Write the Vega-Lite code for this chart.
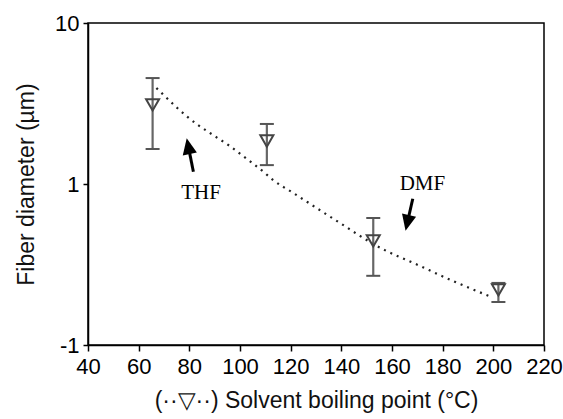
{
  "$schema": "https://vega.github.io/schema/vega-lite/v6.json",
  "autosize": "none",
  "width": 456,
  "height": 322,
  "padding": {"left": 88, "top": 23, "right": 19, "bottom": 74},
  "background": "white",
  "config": {
    "view": {"stroke": "black", "strokeWidth": 1.5},
    "axis": {
      "labelFont": "Liberation Sans",
      "titleFont": "Liberation Sans",
      "labelFontSize": 22,
      "titleFontSize": 23,
      "titleFontWeight": "normal",
      "labelColor": "black",
      "titleColor": "#111111",
      "domainColor": "black",
      "tickColor": "black",
      "domainWidth": 1.5,
      "tickWidth": 1.5,
      "labelOverlap": false,
      "labelBound": false,
      "labelFlush": false,
      "grid": false
    }
  },
  "datasets": {
    "points": [
      {"bp": 65.5, "d": 3.1, "lo": 1.65, "hi": 4.55},
      {"bp": 110.6, "d": 1.85, "lo": 1.31, "hi": 2.36},
      {"bp": 152.6, "d": 0.443, "lo": 0.269, "hi": 0.615},
      {"bp": 202, "d": 0.22, "lo": 0.185, "hi": 0.243}
    ],
    "fit": [
      {"bp": 67, "d": 3.95},
      {"bp": 83, "d": 2.35},
      {"bp": 88, "d": 2.08},
      {"bp": 96, "d": 1.72},
      {"bp": 104, "d": 1.38},
      {"bp": 109, "d": 1.2},
      {"bp": 113, "d": 1.06},
      {"bp": 121, "d": 0.88},
      {"bp": 133, "d": 0.665},
      {"bp": 142, "d": 0.54},
      {"bp": 147, "d": 0.48},
      {"bp": 152.5, "d": 0.425},
      {"bp": 172, "d": 0.305},
      {"bp": 184, "d": 0.25},
      {"bp": 199.5, "d": 0.198}
    ],
    "labels": [
      {"bp": 84.6, "d": 0.883, "text": "THF"},
      {"bp": 172, "d": 1.0, "text": "DMF"}
    ],
    "arrowShafts": [
      {"id": "THF", "bp": 81.6, "d": 1.192, "bp2": 79.58, "d2": 1.718},
      {"id": "DMF", "bp": 168.2, "d": 0.81, "bp2": 166.04, "d2": 0.5735}
    ],
    "arrowHeads": [
      {"id": "THF", "bp": 79.58, "d": 1.718, "angle": 348.8},
      {"id": "DMF", "bp": 166.04, "d": 0.5735, "angle": 192.7}
    ]
  },
  "encoding": {
    "x": {
      "field": "bp",
      "type": "quantitative",
      "scale": {"domain": [40, 220], "nice": false, "zero": false},
      "axis": {
        "title": "(··▽··) Solvent boiling point (°C)",
        "values": [40, 60, 80, 100, 120, 140, 160, 180, 200, 220],
        "tickSize": 6,
        "labelPadding": 5,
        "titlePadding": 12
      }
    },
    "y": {
      "field": "d",
      "type": "quantitative",
      "scale": {"type": "log", "domain": [0.1, 10], "nice": false},
      "axis": {
        "title": "Fiber diameter (µm)",
        "values": [0.1, 1, 10],
        "labelExpr": "datum.value < 0.5 ? '-1' : datum.value < 5 ? '1' : '10'",
        "tickSize": 5,
        "labelPadding": 4,
        "titlePadding": 16
      }
    }
  },
  "layer": [
    {
      "data": {"name": "fit"},
      "mark": {"type": "line", "color": "#222222", "strokeWidth": 2.2, "strokeDash": [2, 5], "interpolate": "monotone"}
    },
    {
      "data": {"name": "points"},
      "mark": {"type": "rule", "color": "#666666", "strokeWidth": 2.2},
      "encoding": {"y": {"field": "lo", "type": "quantitative"}, "y2": {"field": "hi"}}
    },
    {
      "data": {"name": "points"},
      "mark": {"type": "point", "shape": "M -1 0 L 1 0", "size": 196, "filled": false, "color": "#555555", "strokeWidth": 2, "opacity": 1},
      "encoding": {"y": {"field": "lo", "type": "quantitative"}}
    },
    {
      "data": {"name": "points"},
      "mark": {"type": "point", "shape": "M -1 0 L 1 0", "size": 196, "filled": false, "color": "#555555", "strokeWidth": 2, "opacity": 1},
      "encoding": {"y": {"field": "hi", "type": "quantitative"}}
    },
    {
      "data": {"name": "points"},
      "mark": {"type": "point", "shape": "triangle-down", "size": 170, "filled": false, "color": "#444444", "strokeWidth": 2, "opacity": 1}
    },
    {
      "data": {"name": "arrowShafts"},
      "mark": {"type": "rule", "color": "black", "strokeWidth": 3},
      "encoding": {"x2": {"field": "bp2"}, "y2": {"field": "d2"}}
    },
    {
      "data": {"name": "arrowHeads"},
      "mark": {"type": "point", "shape": "M 0 -1 L 0.9 1 L -0.9 1 Z", "filled": true, "color": "black", "size": 256, "opacity": 1},
      "encoding": {
        "angle": {"field": "angle", "type": "quantitative", "scale": null}
      }
    },
    {
      "data": {"name": "labels"},
      "mark": {"type": "text", "font": "Liberation Serif", "fontSize": 21, "color": "black", "baseline": "middle", "align": "center"},
      "encoding": {"text": {"field": "text"}}
    }
  ]
}
